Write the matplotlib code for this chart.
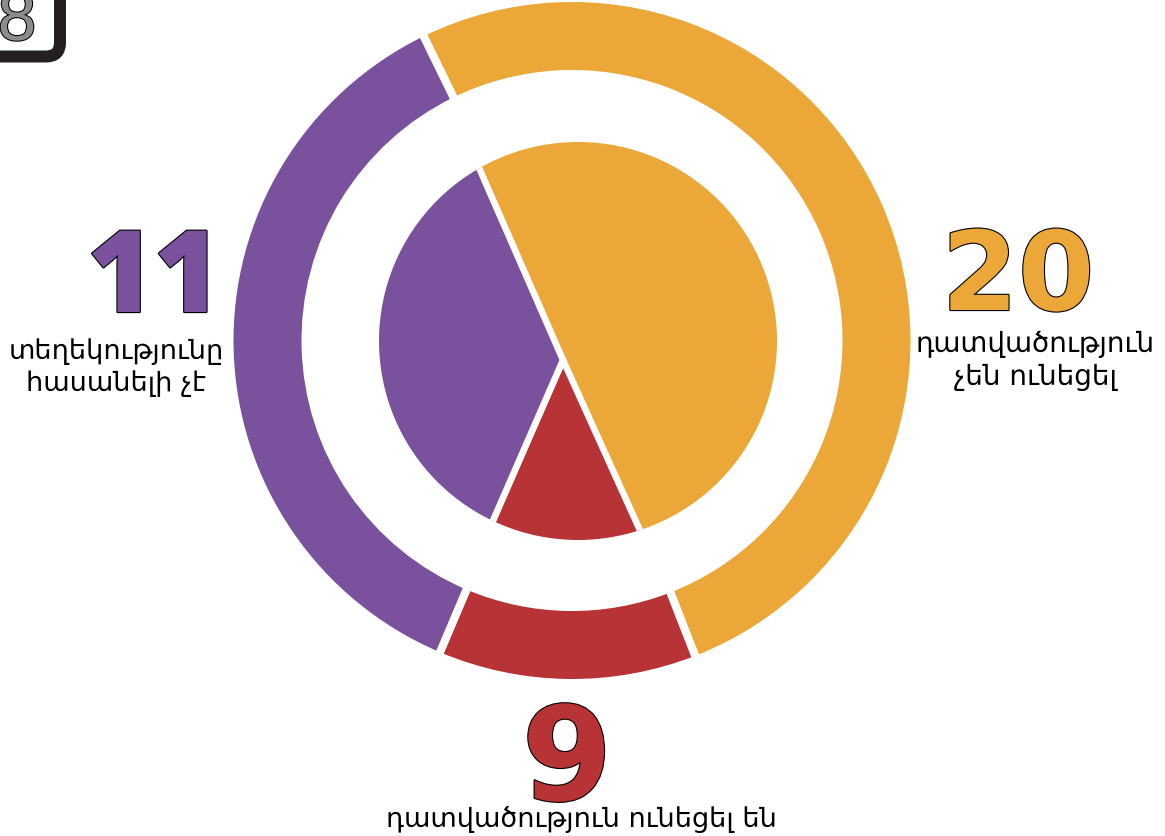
import matplotlib
matplotlib.use("Agg")
import matplotlib.pyplot as plt
from matplotlib.patches import Circle, FancyBboxPatch
import matplotlib.patheffects as pe

# ---- data ----
categories = ["dismissed", "convicted", "unknown"]
colors = ["#EBA738", "#B73335", "#7A519D"]
counts = ["20", "9", "11"]
captions = ["դատվածություն\nչեն ունեցել",
            "դատվածություն ունեցել են",
            "տեղեկությունը\nհասանելի չէ"]
# outer ring shares (percent, read from the arc lengths)
ring_values = [51.3, 12.3, 36.4]
# inner pie shares (percent) – orange is split in two slices
inner_values = [14.6, 35.2, 13.3, 36.9]
inner_colors = [colors[0], colors[0], colors[1], colors[2]]
page_number = "8"

W, H = 1165, 836
fig = plt.figure(figsize=(W / 100, H / 100), dpi=100)
ax = fig.add_axes([0, 0, 1, 1])

PX = 0.72  # points per pixel

# ---- outer ring ----
gap_ring = 8
ax.pie(ring_values, colors=colors, startangle=116, counterclock=False,
       center=(572, H - 340.5), radius=338.5 + gap_ring / 2,
       wedgeprops=dict(width=68 + gap_ring, edgecolor="white",
                       linewidth=gap_ring * PX, joinstyle="miter"))

# ---- inner pie (apex offset from circle centre, clipped to circle) ----
clip_circle = Circle((578, H - 341), 199, transform=ax.transData)
wedges, _ = ax.pie(inner_values, colors=inner_colors, startangle=113.6,
                   counterclock=False, center=(563, H - 360), radius=260,
                   wedgeprops=dict(linewidth=0))
gap_inner = 6.5
for w, c in zip(wedges, inner_colors):
    w.set_clip_on(True)
    w.set_clip_path(clip_circle)
    if c != colors[0]:
        w.set_edgecolor("white")
        w.set_linewidth(gap_inner * PX)
    else:
        w.set_edgecolor(c)
        w.set_linewidth(0.3)

ax.set_xlim(0, W)
ax.set_ylim(0, H)
ax.set_aspect("equal")
ax.axis("off")

stroke = [pe.withStroke(linewidth=1.6, foreground="black")]

# ---- counts ----
ax.text(1018, H - 310, counts[0], color=colors[0], fontsize=79,
        fontweight="bold", family=["DejaVu Sans"], ha="center",
        va="baseline", path_effects=stroke)
ax.text(567, H - 800, counts[1], color=colors[1], fontsize=94,
        fontweight="bold", family=["DejaVu Sans"], ha="center",
        va="baseline", path_effects=stroke)
ax.text(154, H - 312, counts[2], color=colors[2], fontsize=82,
        fontweight=800,
        family=["Open Sans", "Lato", "DejaVu Sans"],
        ha="center", va="baseline", path_effects=stroke)

# ---- captions ----
cap_kw = dict(color="black", family=["DejaVu Sans"], ha="center",
              va="baseline", linespacing=1.25)
ax.text(1035, H - 385, captions[0], fontsize=20, **cap_kw)
ax.text(581, H - 827, captions[1], fontsize=19.5, **cap_kw)
ax.text(116, H - 391, captions[2], fontsize=19.5, **cap_kw)

# ---- page number box (top-left, partly off-canvas) ----
box = FancyBboxPatch((-120, H - 56.5), 180, 200,
                     boxstyle="round,pad=0,rounding_size=14",
                     facecolor="none", edgecolor="#231F20",
                     linewidth=12 * PX)
ax.add_patch(box)
ax.text(17, H - 40, page_number, color="#8C8C8C", fontsize=50,
        family=["Liberation Sans", "DejaVu Sans"], ha="center",
        va="baseline", path_effects=[pe.withStroke(linewidth=1.5,
                                                    foreground="black")])

fig.savefig("out.png", dpi=100)
